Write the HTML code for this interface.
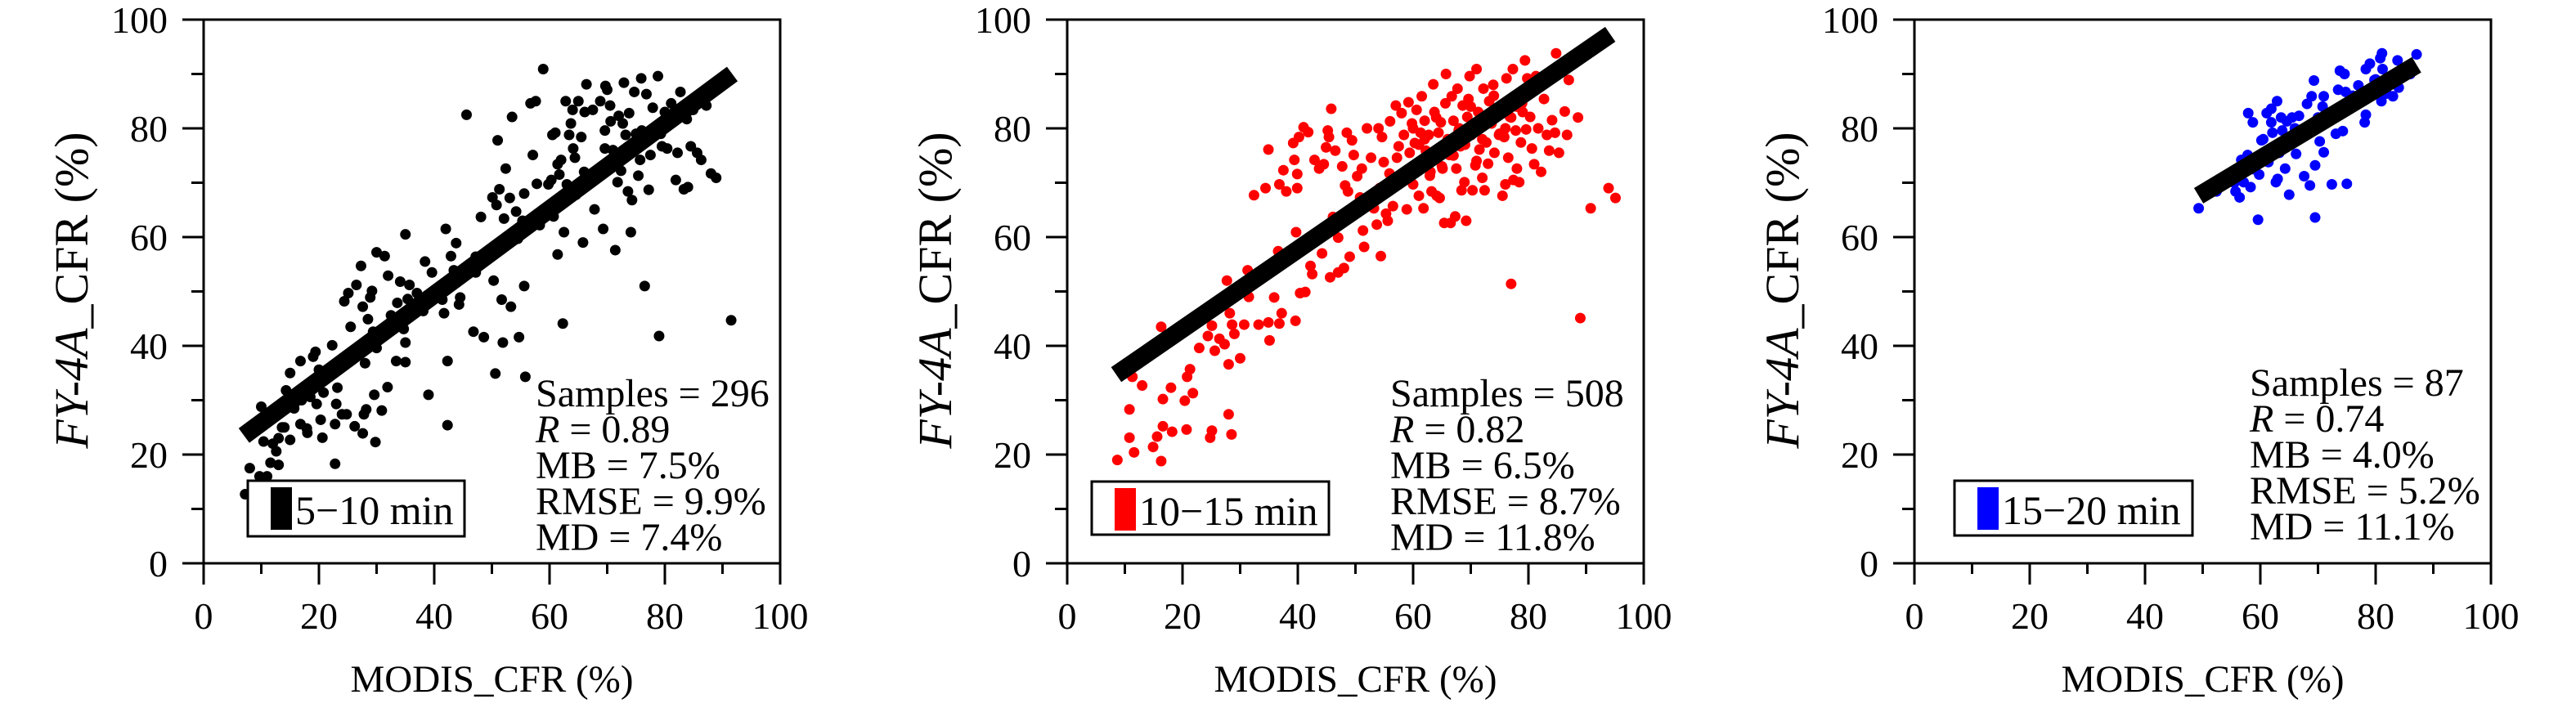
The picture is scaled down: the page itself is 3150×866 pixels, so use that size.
<!DOCTYPE html>
<html><head><meta charset="utf-8"><style>
html,body{margin:0;padding:0;background:#fff;}
svg{display:block;font-family:"Liberation Serif",serif;}
</style></head><body>
<svg id="fig" width="3150" height="866" viewBox="0 0 3150 866" xmlns="http://www.w3.org/2000/svg"></svg>
<script>
// ---------- data ----------
const xTicks = [0,20,40,60,80,100];
const yTicks = [0,20,40,60,80,100];
const minorTicks = [10,30,50,70,90];

const p1x = [7.2,8,9.7,11,10,10.4,11.6,12.6,13,13,13.6,14.3,15,15,15.7,16.3,16.8,16.8,17.9,18,18.5,19,19.4,19.6,20,20.3,20.6,20.8,21.2,22.3,22.8,22.8,23,23.2,24,24.4,24.8,25.1,25.5,26.2,26.5,27.3,27.6,27.6,27.8,28,28.2,28.5,28.9,29.2,29.4,29.6,29.8,30,30,30.9,31.4,31.9,32,32.5,33.4,33.6,34.1,34.7,35,35,35,35.4,35.7,37,38.1,38.4,39,39.6,41.4,41.7,42,42.3,42.3,42.9,43.4,43.8,44.3,44.5,45.6,46.8,47.2,47.2,48.1,48.6,50.1,50.3,50.6,50.8,51,51.3,51.7,51.9,52.1,52.4,53.1,53.3,53.5,54.2,54.5,54.7,55.3,55.6,55.6,55.8,56.7,57.1,57.6,57.8,58.3,58.9,59.8,60.3,60.5,60.7,61,61.4,61.4,61.7,62,62.3,62.5,62.8,63,63.4,63.7,64,64.1,64.4,64.6,65,65.5,65.8,66.1,66.4,66.8,67.5,67.8,68.8,69.3,69.6,69.6,69.7,70,70.5,70.6,71.4,71.8,72,72.4,72.7,72.9,73.2,73.6,73.8,74.1,74.3,74.7,75.4,75.7,75.9,76,76.5,76.8,77.2,77.5,77.9,78.8,79,79.3,79.5,80.4,81.1,81.9,82.2,82.7,83.3,83.8,84,84.5,84.9,85.6,86.3,87.2,88,88.9,91.5,12,14,17,21,25,33,37,44,49,53,59,66,71,75,80];
const p1y = [12.7,17.5,16,16,28.8,22.4,18.5,20.6,18.1,23,25,31.8,35,22.7,28.5,31.4,37.2,25.6,24.8,24,30.6,38,38.9,29.3,35.6,26.4,23.1,31.4,33.9,40.1,18.3,25.6,29.3,32.3,27.4,48.2,27.4,49.7,43.5,25.2,51.2,54.7,47.2,23.9,27.4,36.8,28.3,44.9,48.9,50.1,42.6,31,22.3,57.2,39.6,28.1,56.5,32.4,52.9,45.6,37.2,47.9,51.8,43.1,60.5,40.6,37,48.6,51.2,49.7,46.4,55.5,31,53.5,48.5,46,61.5,37.2,25.4,56.5,53.9,58.9,47.6,48.9,82.5,42.6,56.4,53.5,63.7,41.6,67.3,52,34.9,65.9,77.8,68.8,48.5,40.6,63.4,72.6,67.2,47.2,82.1,64.7,59.7,41.6,63,68,51,34.3,84.6,75.1,85,69.8,62.2,90.9,69.7,70.5,78.8,63.8,79.2,56.8,73.4,71.5,74.2,44.1,60.9,85,69.7,78.8,80.9,83.4,76.3,74.6,67.8,85,78.4,59,83,88.1,69.7,83.4,65.1,85,61.5,76.3,79.6,87.8,87.1,84.2,81.3,57.6,70.1,82.3,72.2,80.9,88.4,78.8,68.4,82.8,60.9,66.8,86.7,71.3,74.2,89.2,79.6,51,86.3,68.7,75.1,83.8,89.6,41.8,79,76.7,76.3,84.6,70.5,75.5,86.7,68.8,81.7,69.2,76.7,83.4,75.5,74.2,84.2,71.7,70.9,44.7,22,25,30,34,38,45,48,53,57,60,65,72,76,79,83];

const p2x = [8.7,10.8,10.8,11.3,11.6,13,14.9,15.6,16.3,16.3,16.6,16.6,18,18.2,20.4,20.7,20.8,21.3,21.8,22.9,24.4,24.8,25.1,25.1,25.6,26.4,27.3,27.7,28,28,28.2,28.5,28.6,29,30,30.7,31.3,31.5,32.4,33.2,34.4,34.9,34.9,35.1,35.9,36.6,36.8,36.8,37.2,37.5,38,39.2,39.4,39.6,39.7,39.9,39.9,40.2,40.4,41,41.3,41.8,42.2,42.5,42.9,43.7,44.2,44.5,44.9,45.2,45.4,45.6,45.8,46.1,46.5,47,47,47.7,48,48.2,48.5,48.7,49,49.4,49.7,50.3,50.8,51.1,51.3,51.5,52,52.7,53.2,53.7,54,54.2,54.4,54.6,54.9,55.3,55.6,55.9,56,56.5,57,57.2,57.5,58,58.4,58.7,58.9,59.2,59.4,59.8,60,60.3,60.6,60.8,61,61.3,61.5,61.8,62,62.2,62.7,62.9,63.2,63.5,63.7,63.8,64.1,64.4,64.6,64.8,65.1,65.4,65.6,65.7,66,66.3,66.5,66.7,67,67.3,67.5,67.7,67.9,68.2,68.4,68.6,68.9,69.2,69.4,69.6,69.8,70.1,70.3,70.8,71,71.3,71.5,71.7,72,72.2,72.4,72.7,73,73.2,73.6,73.9,74.1,74.4,74.9,75.5,75.8,76,76.2,76.5,76.8,77,77.3,77.4,77.8,78,78.4,78.7,78.9,79.4,79.6,79.8,80.3,80.6,81,81.3,81.7,82.2,82.7,83.2,83.6,84.1,84.6,84.8,85.3,86.3,86.7,87,88.6,89,90.8,93.9,95.1,60,62,64,66,68,70,72,74,76,78,63,67,71,75,79,61,65,69,73,77];
const p2y = [19,28.3,23.1,34.3,20.4,32.7,21.4,23.3,18.8,43.5,30.2,25.2,32.3,24.2,29.9,24.6,34.3,35.7,31.3,39.6,41.8,23.1,24.4,43.7,39.1,41.3,40.3,52,36.6,27.4,46,23.7,43.9,42.2,37.7,43.9,53.9,49,67.7,43.9,69,76.1,44.3,41,48.9,57.4,69.7,44.1,46,72.3,68.4,77.3,74.2,44.6,60.9,69,71.6,78.4,49.7,80.2,49.9,79.3,54.7,53.2,74.2,72.6,57,73.4,76.5,79.6,78.4,52.6,83.6,63.7,75.9,53.5,59.9,73,54.3,69.5,79.2,68.4,56.4,77.8,75.1,71.2,67.3,72.6,61.2,58.2,80,74.6,65.3,62.3,80,69,56.5,78.4,73.8,64.3,63,71.7,81.3,65.7,84.2,74.6,76.7,82.8,78.8,70.7,65.1,84.8,75.5,80.9,69.7,77.3,83.4,73.5,67.6,79.2,85.9,65.3,81.4,75.9,78.8,71.3,68.4,88.1,83,74.2,67.6,79.2,67.2,81.1,72.6,62.6,84.6,90,78,75.1,62.6,85.9,81.4,63.8,72.6,87.3,79.6,76.7,68.6,84.2,70.1,63,82.1,85.4,89.6,78.8,68.6,73.2,90.9,83,76.1,80.5,70.9,87.3,68.6,77.4,73.5,85,80.9,88,75.5,82.5,78.8,67.6,78.4,69.7,89.2,74.6,82.1,51.4,90.9,70.5,79.6,72.6,70.1,77.4,84.6,92.5,79.8,89.2,82.1,76.3,73.4,89.6,80,72,85.4,78.8,75.9,81.5,79.2,93.8,75.5,83.1,78.8,88.9,82,45.1,65.3,69,67.2,80,78,82,76,80,84,78,86,80,84,72,75,74,79,83,77,73,77,81,82];

const p3x = [49.3,52.4,55.7,56.4,56.7,57.1,57.8,57.9,58.3,58.7,59.6,59.8,60.2,61.1,61.4,61.9,61.9,62.1,62.7,62.9,63,63.3,63.6,63.8,64.3,64.6,65,65.5,66.2,66.7,67.6,68.1,68.6,68.9,69.3,69.5,69.5,70.3,70.8,71,71,72.4,73.1,73.5,73.8,74.3,74.6,74.8,75,77,78.1,78.3,78.3,79,79.8,80.5,80.8,81,81.1,81.2,81.9,83,83.6,83.8,84,87.1,55.5,58.8,60.5,66,70,76,80,82,86];
const p3y = [65.3,68.4,68.4,67.3,74.2,70.1,75.1,82.8,69.2,81.1,63.2,71.5,77.8,82.8,73.8,81.1,83.6,79.2,70.1,85,70.7,75.5,82,79.6,72.6,81.3,67.8,82,75.3,82.3,71.2,84.5,69.5,85.9,88.8,73.2,63.6,77.6,84,85.9,75.6,69.7,79,87.1,90.6,79.5,90,86.7,69.8,87.9,81.1,82.5,90.9,91.9,88.9,87.3,92.9,85,93.8,90.9,86.4,85.9,88.8,92.5,87.5,93.6,70,72.5,78,80,82,86,89,88,90];

const fitX = [[7.0,91.7],[8.5,94.2],[49.3,87.1]];
const fitY = [[23.5,90.0],[34.7,97.3],[67.6,91.7]];
const legendLabels = ["5\u221210 min","10\u221215 min","15\u221220 min"];
const samples = ["296","508","87"];
const rVals = ["0.89","0.82","0.74"];
const mbVals = ["7.5%","6.5%","4.0%"];
const rmseVals = ["9.9%","8.7%","5.2%"];
const mdVals = ["7.4%","11.8%","11.1%"];

// ---------- layout ----------
const NS = "http://www.w3.org/2000/svg";
const svg = document.getElementById("fig");
const Y0 = 689, Y100 = 24;
const panels = [
  {x0:249, color:"#000", xs:p1x, ys:p1y, statX:655, statY:497, leg:[303,588,265,68], ytX:89},
  {x0:1305, color:"#ff0000", xs:p2x, ys:p2y, statX:1700, statY:497, leg:[1335,589,290,65], ytX:1145},
  {x0:2341, color:"#0000ff", xs:p3x, ys:p3y, statX:2751, statY:484, leg:[2390,588,291,67], ytX:2181}
];
const W = 705;
function mk(tag, attrs, parent){const e=document.createElementNS(NS,tag);for(const k in attrs)e.setAttribute(k,attrs[k]);(parent||svg).appendChild(e);return e;}

panels.forEach((p,i)=>{
  const sx = v => p.x0 + v/100*W;
  const sy = v => Y0 - v/100*(Y0-Y100);
  const g = mk("g",{});
  
  
  const clipId = "clip"+i;
  const cp = mk("clipPath",{id:clipId},g);
  mk("rect",{x:p.x0,y:Y100,width:W,height:Y0-Y100},cp);
  const pts = mk("g",{"clip-path":"url(#"+clipId+")"},g);
  
  
  for(let k=0;k<p.xs.length;k++){
    const c = mk("circle",{cx:sx(p.xs[k]),cy:sy(p.ys[k]),r:6.5,fill:p.color},pts);
    
    
  }
  const ln = mk("line",{x1:sx(fitX[i][0]),y1:sy(fitY[i][0]),x2:sx(fitX[i][1]),y2:sy(fitY[i][1]),stroke:"#000","stroke-width":22,"stroke-linecap":"butt"},g);
  
  
  const fr = mk("rect",{x:p.x0,y:Y100,width:W,height:Y0-Y100,fill:"none",stroke:"#000","stroke-width":3},g);
  
  
  xTicks.forEach(t=>{
    mk("line",{x1:sx(t),y1:Y0,x2:sx(t),y2:Y0+26,stroke:"#000","stroke-width":3},g);
    const tx = mk("text",{x:sx(t),y:Y0+80,"font-size":46,"text-anchor":"middle"},g);
    tx.textContent=t;
    
    
  });
  yTicks.forEach(t=>{
    mk("line",{x1:p.x0-26,y1:sy(t),x2:p.x0,y2:sy(t),stroke:"#000","stroke-width":3},g);
    const ty = mk("text",{x:p.x0-44,y:sy(t)+16,"font-size":46,"text-anchor":"end"},g);
    ty.textContent=t;
    
    
  });
  minorTicks.forEach(t=>{
    mk("line",{x1:sx(t),y1:Y0,x2:sx(t),y2:Y0+13,stroke:"#000","stroke-width":3},g);
    mk("line",{x1:p.x0-15,y1:sy(t),x2:p.x0,y2:sy(t),stroke:"#000","stroke-width":3},g);
  });
  const xt = mk("text",{x:p.x0+W/2,y:846,"font-size":47,"text-anchor":"middle"},g);
  xt.textContent="MODIS_CFR (%)";
  
  
  const yt = mk("text",{x:0,y:0,"font-size":58,"text-anchor":"middle",transform:"translate("+(p.ytX+18)+",355) rotate(-90)"},g);
  yt.innerHTML='<tspan font-style="italic">FY-4A</tspan>_CFR (%)';
  
  
  const lg = mk("g",{},g);
  
  
  const [lx,ly,lw,lh]=p.leg;
  mk("rect",{x:lx,y:ly,width:lw,height:lh,fill:"#fff",stroke:"#000","stroke-width":3},lg);
  mk("rect",{x:lx+28,y:ly+8,width:26,height:52,fill:p.color},lg);
  const lt = mk("text",{x:lx+58,y:ly+53,"font-size":50},lg);
  lt.textContent=legendLabels[i];
  
  
  const st = mk("text",{x:p.statX,y:p.statY,"font-size":48},g);
  
  
  const lines = ["Samples = "+samples[i], null, "MB = "+mbVals[i], "RMSE = "+rmseVals[i], "MD = "+mdVals[i]];
  lines.forEach((s,k)=>{
    const ts = mk("tspan",{x:p.statX,dy:k===0?0:44},st);
    if(s===null){ ts.innerHTML='<tspan font-style="italic">R</tspan> = '+rVals[i]; }
    else ts.textContent=s;
  });
});
</script>
</body></html>
